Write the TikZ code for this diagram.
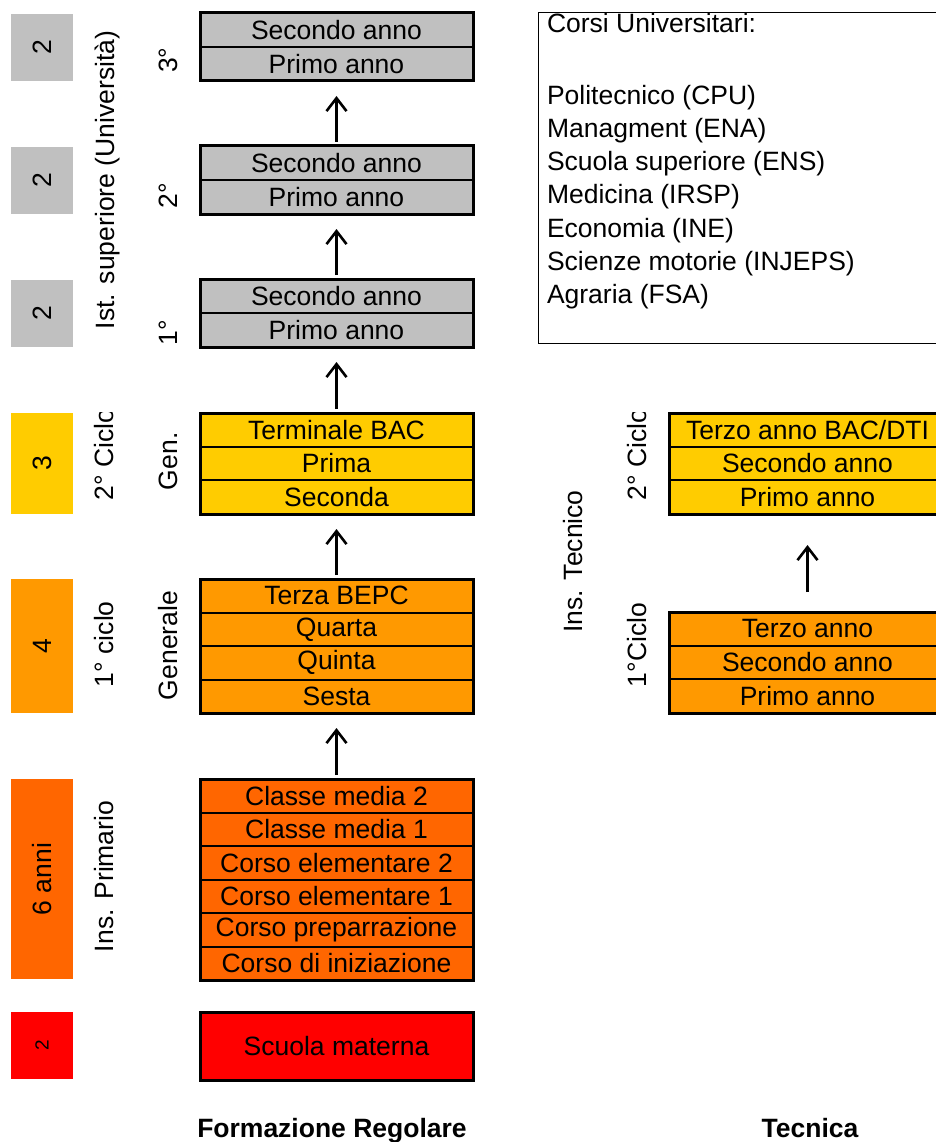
\documentclass[tikz,border=0pt]{standalone}
\usepackage{fontspec}
\setmainfont{Liberation Sans}
\usetikzlibrary{arrows.meta}
\definecolor{unigray}{HTML}{C0C0C0}
\definecolor{secyellow}{HTML}{FFCC00}
\definecolor{midorange}{HTML}{FF9900}
\definecolor{primorange}{HTML}{FF6600}
\definecolor{kinderred}{HTML}{FF0000}
\newcommand{\bodyfont}{\fontsize{26.5}{33}\selectfont}
\begin{document}
\begin{tikzpicture}[x=1pt,y=-1pt,
  every node/.style={font=\bodyfont, inner sep=0pt, outer sep=0pt},
  rowbox/.style={draw, line width=2pt, minimum width=273pt, anchor=north west},
  frame/.style={draw, line width=3pt},
  bar/.style={rotate=90, minimum height=62pt},
  vlabel/.style={rotate=90, anchor=base west},
  up/.style={line width=2.6pt, -{Straight Barb[length=13pt,width=20pt]}},
  title/.style={font=\bodyfont\bfseries, anchor=base}
]
\useasboundingbox (0,0) rectangle (936,1142);

% ---- duration bars on the left
\node[bar, fill=unigray, minimum width=67pt] (d1) at (42,47.5) {2};
\node[bar, fill=unigray, minimum width=67pt] (d2) at (42,180.5) {2};
\node[bar, fill=unigray, minimum width=67pt] (d3) at (42,313.5) {2};
\node[bar, fill=secyellow, minimum width=101pt] (d4) at (42,463.5) {3};
\node[bar, fill=midorange, minimum width=134pt] (d5) at (42,646) {4};
\node[bar, fill=primorange, minimum width=200pt] (d6) at (42,879) {6 anni};
\node[bar, fill=kinderred, minimum width=67pt, font=\fontsize{19}{22}\selectfont] (d7) at (42,1045.5) {2};

% ---- level labels
\node[rotate=90, anchor=base] (ist) at (114,180) {Ist. superiore (Università)};
\begin{scope}
  \clip (80,412) rectangle (190,520);
  \node[vlabel] (cic2) at (113,500) {2° Ciclo};
\end{scope}
\node[vlabel] (cic1) at (113,687) {1° ciclo};
\node[vlabel] (prim) at (113,952) {Ins. Primario};
\node[vlabel] (y3) at (177,73) {3°};
\node[vlabel] (y2) at (177,208) {2°};
\node[vlabel] (y1) at (177,345) {1°};
\node[vlabel] (gen) at (177,490) {Gen.};
\node[vlabel] (genl) at (177,700) {Generale};

% ---- university stacks
\foreach \k/\top in {3/13, 2/146, 1/279}{
  \node[rowbox, fill=unigray, minimum height=34pt] (u\k-1) at (200,\top) {Secondo anno};
  \node[rowbox, fill=unigray, minimum height=34pt] (u\k-2) at (200,\top+34) {Primo anno};
  \draw[frame] (u\k-1.north west) rectangle (u\k-2.south east);
}

% ---- secondary, second cycle
\foreach \t [count=\i] in {Terminale BAC, Prima, Seconda}
  \node[rowbox, fill=secyellow, minimum height=33.67pt] (s2-\i) at (200,413+33.67*\i-33.67) {\t};
\draw[frame] (s2-1.north west) rectangle (s2-3.south east);

% ---- secondary, first cycle
\foreach \t [count=\i] in {Terza BEPC, Quarta, Quinta, Sesta}
  \node[rowbox, fill=midorange, minimum height=33.5pt] (s1-\i) at (200,579+33.5*\i-33.5) {\t};
\draw[frame] (s1-1.north west) rectangle (s1-4.south east);

% ---- primary
\foreach \t [count=\i] in {Classe media 2, Classe media 1, Corso elementare 2,
    Corso elementare 1, Corso preparrazione, Corso di iniziazione}
  \node[rowbox, fill=primorange, minimum height=33.5pt] (p-\i) at (200,779+33.5*\i-33.5) {\t};
\draw[frame] (p-1.north west) rectangle (p-6.south east);

% ---- nursery
\node[rowbox, fill=kinderred, minimum height=68pt] (mat) at (200,1012) {Scuola materna};
\draw[frame] (mat.north west) rectangle (mat.south east);

% ---- progression arrows
\draw[up, shorten <=4pt, shorten >=15pt] (u1-1.north) -- (u2-2.south);
\draw[up, shorten <=4pt, shorten >=15pt] (u2-1.north) -- (u3-2.south);
\draw[up, shorten <=4pt, shorten >=15pt] (s2-1.north) -- (u1-2.south);
\draw[up, shorten <=4pt, shorten >=15pt] (s1-1.north) -- (s2-3.south);
\draw[up, shorten <=4pt, shorten >=15pt] (p-1.north) -- (s1-4.south);

% ---- university courses
\node[draw, line width=1pt, anchor=north west, minimum width=420pt, minimum height=330pt] (corsi) at (538,13) {};
\node[anchor=base west] (c0) at (547,33) {Corsi Universitari:};
\foreach \t [count=\i] in {Politecnico (CPU), Managment (ENA), Scuola superiore (ENS),
    Medicina (IRSP), Economia (INE), Scienze motorie (INJEPS), Agraria (FSA)}
  \node[anchor=base west] (c\i) at (547,105+33*\i-33) {\t};

% ---- technical track
\node[rotate=90, anchor=base] (tec) at (582,561.5) {Ins. Tecnico};
\begin{scope}
  \clip (600,412) rectangle (660,520);
  \node[vlabel] (tc2) at (646,500) {2° Ciclo};
\end{scope}
\node[vlabel] (tc1) at (646,687) {1°Ciclo};

\foreach \t [count=\i] in {Terzo anno BAC/DTI, Secondo anno, Primo anno}
  \node[rowbox, minimum width=277pt, fill=secyellow, minimum height=33.67pt] (t2-\i) at (669,413+33.67*\i-33.67) {\t};
\draw[frame] (t2-1.north west) rectangle (t2-3.south east);

\foreach \t [count=\i] in {Terzo anno, Secondo anno, Primo anno}
  \node[rowbox, minimum width=277pt, fill=midorange, minimum height=33.67pt] (t1-\i) at (669,612+33.67*\i-33.67) {\t};
\draw[frame] (t1-1.north west) rectangle (t1-3.south east);

\draw[up, shorten <=20pt, shorten >=31pt] (t1-1.north) -- (t2-3.south);

% ---- column titles
\node[title] (ftitle) at (332,1137) {Formazione Regolare};
\node[title] (ttitle) at (810,1137) {Tecnica};
\end{tikzpicture}
\end{document}
